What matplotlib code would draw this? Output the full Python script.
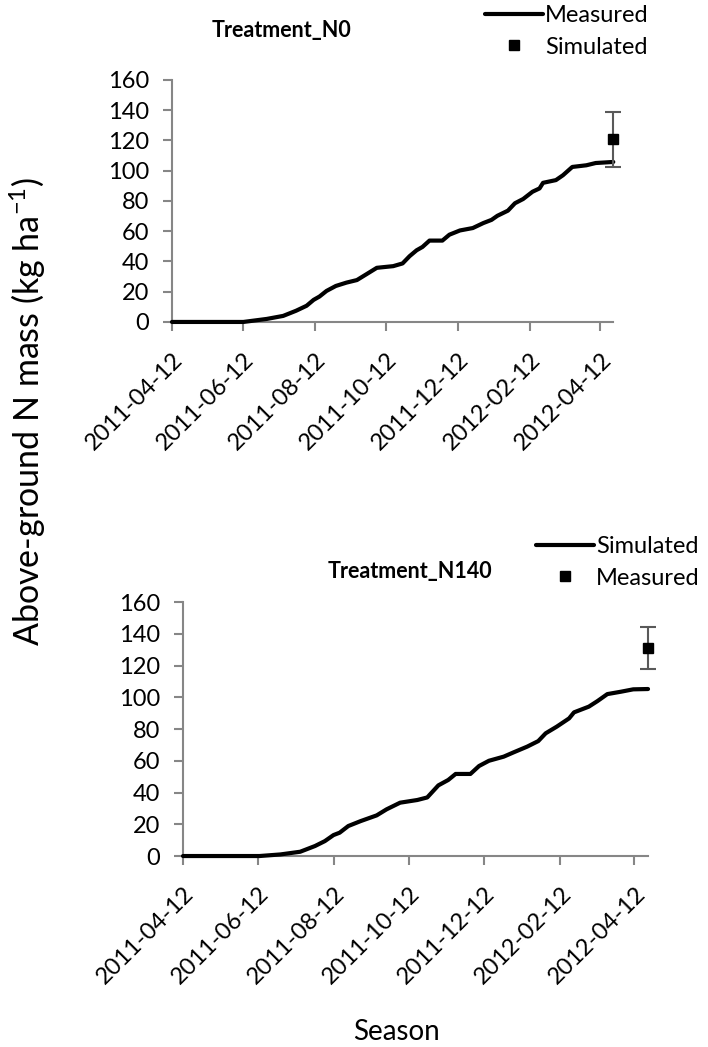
import matplotlib
matplotlib.use("Agg")
import matplotlib.pyplot as plt
import matplotlib.dates as mdates
import pandas as pd

plt.rcParams['font.family'] = ['Lato', 'DejaVu Sans']
plt.rcParams['mathtext.fontset'] = 'custom'
plt.rcParams['mathtext.rm'] = 'Lato'
plt.rcParams['mathtext.it'] = 'Lato:italic'
plt.rcParams['mathtext.bf'] = 'Lato:bold'

# treatment N0 : curve
n0_dates = ["2011-04-12", "2011-06-12", "2011-07-02", "2011-07-16", "2011-07-27",
            "2011-08-05", "2011-08-11", "2011-08-16", "2011-08-22", "2011-08-30",
            "2011-09-08", "2011-09-17", "2011-09-25", "2011-10-04", "2011-10-18",
            "2011-10-26", "2011-11-01", "2011-11-07", "2011-11-12", "2011-11-18",
            "2011-11-29", "2011-12-05", "2011-12-14", "2011-12-25", "2012-01-03",
            "2012-01-10", "2012-01-15", "2012-01-24", "2012-01-30", "2012-02-06",
            "2012-02-14", "2012-02-20", "2012-02-23", "2012-03-05", "2012-03-11",
            "2012-03-19", "2012-03-31", "2012-04-08", "2012-04-23"]
n0_values = [0, 0, 2.0, 4.0, 7.4, 10.7, 14.6, 16.8, 20.5, 23.8,
             26.0, 27.7, 31.5, 35.8, 36.9, 38.7, 43.5, 47.4, 49.6, 53.8,
             53.8, 57.7, 60.5, 62.1, 65.4, 67.5, 70.2, 73.6, 78.5, 81.3,
             86.1, 88.3, 92.0, 93.8, 97.0, 102.5, 103.6, 105.1, 105.8]
n0_point_date = ["2012-04-23"]
n0_point = [120.8]
n0_err = [18.2]

# treatment N140 : curve
n140_dates = ["2011-04-12", "2011-06-13", "2011-06-30", "2011-07-16", "2011-07-28",
              "2011-08-05", "2011-08-12", "2011-08-17", "2011-08-24", "2011-09-03",
              "2011-09-16", "2011-09-24", "2011-10-05", "2011-10-19", "2011-10-27",
              "2011-11-05", "2011-11-13", "2011-11-19", "2011-12-01", "2011-12-08",
              "2011-12-16", "2011-12-28", "2012-01-05", "2012-01-16", "2012-01-25",
              "2012-01-31", "2012-02-09", "2012-02-19", "2012-02-23", "2012-03-06",
              "2012-03-13", "2012-03-21", "2012-04-01", "2012-04-11", "2012-04-23"]
n140_values = [0, 0, 1.0, 2.7, 6.3, 9.4, 13.2, 14.7, 18.9, 22.0,
               25.6, 29.4, 33.6, 35.3, 36.9, 44.5, 47.9, 51.7, 51.7, 56.7,
               60.0, 62.6, 65.3, 68.9, 72.4, 77.3, 81.5, 86.7, 90.5, 94.1,
               97.6, 102.0, 103.5, 105.0, 105.2]
n140_point_date = ["2012-04-23"]
n140_point = [130.8]
n140_err = [13.3]

tick_dates = ["2011-04-12", "2011-06-12", "2011-08-12", "2011-10-12",
              "2011-12-12", "2012-02-12", "2012-04-12"]
y_ticks = [0, 20, 40, 60, 80, 100, 120, 140, 160]

fig = plt.figure(figsize=(7.08, 10.47), dpi=100)
ax1 = fig.add_axes([0.2429, 0.6925, 0.6233, 0.2311])
ax2 = fig.add_axes([0.2585, 0.1824, 0.6568, 0.2426])

panels = [
    (ax1, n0_dates, n0_values, n0_point_date, n0_point, n0_err,
     "Measured", "Simulated", "Treatment_N0", (212, 37), (485, 5)),
    (ax2, n140_dates, n140_values, n140_point_date, n140_point, n140_err,
     "Simulated", "Measured", "Treatment_N140", (328, 578), (536, 536)),
]

for ax, d, v, pd_, pv, pe, line_lab, pt_lab, title, tpos, lpos in panels:
    line, = ax.plot(pd.to_datetime(d), v, color='black', lw=3,
                    solid_capstyle='round', clip_on=False, zorder=3)
    ax.errorbar(pd.to_datetime(pd_), pv, yerr=pe, fmt='none', ecolor='#595959',
                elinewidth=1.5, capsize=6, capthick=1.5, clip_on=False, zorder=4)
    pt, = ax.plot(pd.to_datetime(pd_), pv, ls='none', marker='s', ms=6.5,
                  color='black', clip_on=False, zorder=5)

    ax.set_xlim(pd.Timestamp("2011-04-12"), pd.Timestamp("2012-04-23"))
    ax.set_ylim(0, 160)
    ax.set_yticks(y_ticks)
    ax.set_xticks(pd.to_datetime(tick_dates))
    ax.xaxis.set_major_formatter(mdates.DateFormatter("%Y-%m-%d"))

    for s in ['top', 'right']:
        ax.spines[s].set_visible(False)
    for s in ['left', 'bottom']:
        ax.spines[s].set_color('#868686')
        ax.spines[s].set_linewidth(1.5)
    ax.tick_params(axis='both', direction='out', length=6.5, width=1.5,
                   color='#868686', labelsize=17)
    ax.tick_params(axis='y', pad=10)
    ax.tick_params(axis='x', pad=13)
    for lab in ax.get_xticklabels():
        lab.set_rotation(45)
        lab.set_ha('right')
        lab.set_va('top')
        lab.set_rotation_mode('anchor')

    fig.text(tpos[0] / 708, 1 - tpos[1] / 1047, title, fontsize=15.5,
             fontweight='bold', ha='left', va='baseline')

    fig.legend([line, pt], [line_lab, pt_lab], loc='upper left',
               bbox_to_anchor=(lpos[0] / 708, 1 - lpos[1] / 1047),
               frameon=False, fontsize=17, handlelength=2.45,
               handletextpad=0.1, labelspacing=0.45, borderpad=0,
               borderaxespad=0)

fig.text(28 / 708, 1 - 411 / 1047, "Above-ground N mass (kg ha$^{-1}$)",
         rotation=90, ha='center', va='center', fontsize=24.5)
fig.text(396 / 708, 1 - 1040 / 1047, "Season", ha='center', va='baseline',
         fontsize=20)

fig.savefig("out.png", dpi=100)
